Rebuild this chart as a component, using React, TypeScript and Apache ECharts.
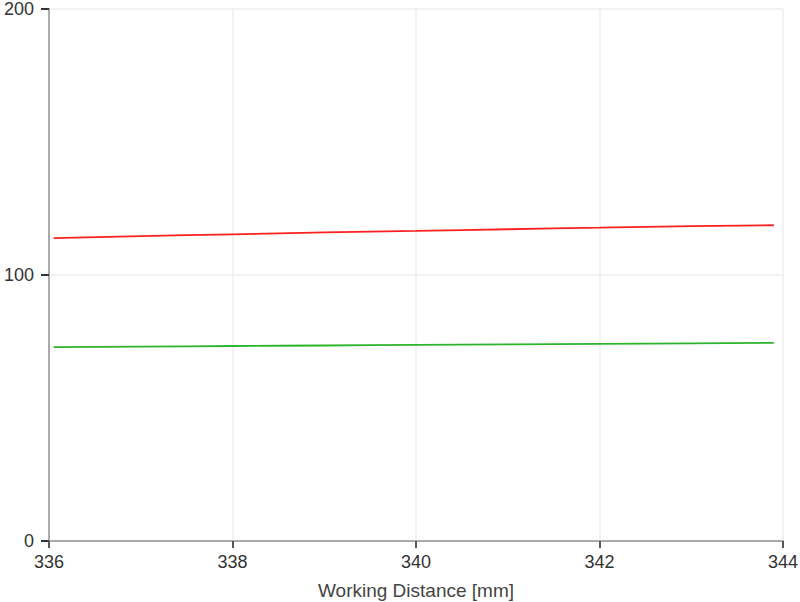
import React, { useEffect, useRef } from "react";
import * as echarts from "echarts";

const redX = [336.05, 337, 338, 339, 340, 341, 342, 343, 343.9];
const redY = [113.9, 114.6, 115.3, 116.0, 116.6, 117.2, 117.8, 118.4, 118.7];
const greenX = [336.05, 337, 338, 339, 340, 341, 342, 343, 343.9];
const greenY = [72.9, 73.1, 73.3, 73.5, 73.7, 73.9, 74.1, 74.3, 74.5];

const FONT = "Arial, 'Liberation Sans', sans-serif";

export default function App() {
  const ref = useRef<HTMLDivElement>(null);
  useEffect(() => {
    const chart = echarts.init(ref.current!, null, { renderer: "svg" });
    chart.setOption({
      animation: false,
      grid: {
        left: 49,
        right: 17,
        top: 9,
        bottom: 61,
        containLabel: false,
        outerBoundsMode: "none",
      },
      xAxis: {
        type: "value",
        min: 336,
        max: 344,
        interval: 2,
        name: "Working Distance [mm]",
        nameLocation: "middle",
        nameGap: 40,
        nameTextStyle: { color: "#444", fontSize: 19, fontFamily: FONT },
        axisLine: { show: true, lineStyle: { color: "#aaa", width: 2 } },
        axisTick: { show: true, length: 7, lineStyle: { color: "#555", width: 2 } },
        axisLabel: { color: "#333", fontSize: 18, fontFamily: FONT, margin: 12 },
        splitLine: { show: true, lineStyle: { color: "#eee", width: 1.5 } },
      },
      yAxis: {
        type: "value",
        min: 0,
        max: 200,
        interval: 100,
        axisLine: { show: true, lineStyle: { color: "#aaa", width: 2 } },
        axisTick: { show: true, length: 8, lineStyle: { color: "#333", width: 2 } },
        axisLabel: { color: "#333", fontSize: 18, fontFamily: FONT, margin: 15 },
        splitLine: { show: true, lineStyle: { color: "#eee", width: 1.5 } },
      },
      series: [
        {
          type: "line",
          data: redX.map((x, i) => [x, redY[i]]),
          showSymbol: false,
          smooth: true,
          lineStyle: { color: "#ff2020", width: 1.8 },
        },
        {
          type: "line",
          data: greenX.map((x, i) => [x, greenY[i]]),
          showSymbol: false,
          smooth: true,
          lineStyle: { color: "#2cb52c", width: 1.8 },
        },
      ],
    });
    return () => chart.dispose();
  }, []);
  return (
    <div
      ref={ref}
      style={{ position: "absolute", left: 0, top: 0, width: 800, height: 602 }}
    />
  );
}
